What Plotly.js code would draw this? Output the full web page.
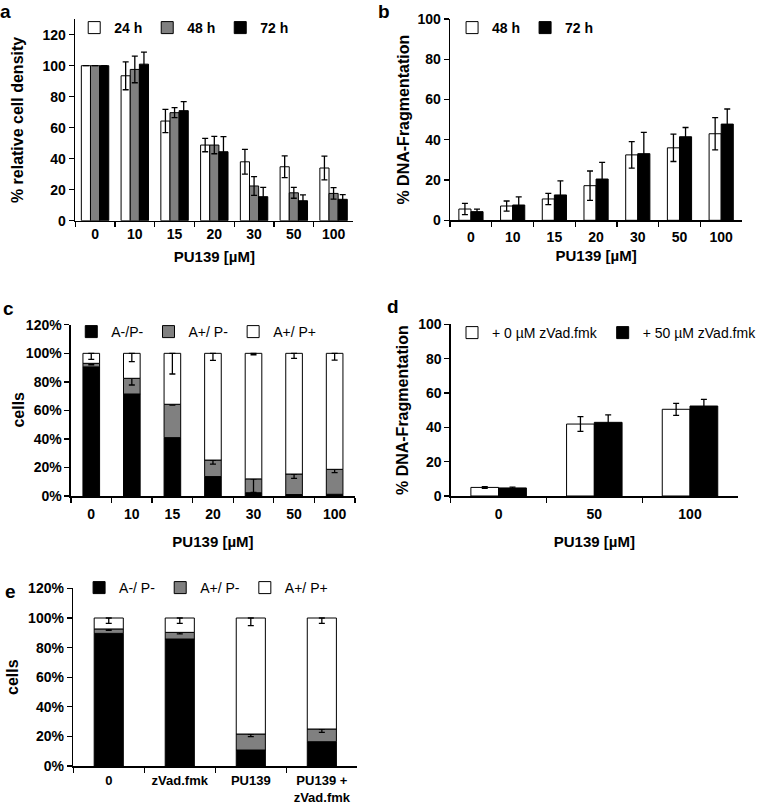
<!DOCTYPE html>
<html><head><meta charset="utf-8">
<script src="https://cdn.plot.ly/plotly-3.0.1.min.js"></script>
<style>html,body{margin:0;padding:0;background:#fff}#chart{width:762px;height:807px}</style>
</head><body><div id="chart"></div>
<script>
// ---- data ----
const concA = ['0', '10', '15', '20', '30', '50', '100'];
const a24 = [100, 93.5, 64.3, 48.8, 38, 34.8, 34];
const a24Err = [0, 9, 7.5, 4.3, 8, 7, 7.7];
const a48 = [100, 97.6, 69.7, 48.8, 22.4, 18, 17.6];
const a48Err = [0, 8.6, 3.2, 5.6, 6, 3.5, 3.7];
const a72 = [100, 101, 71, 44.5, 15.5, 12.9, 13.8];
const a72Err = [0, 7.7, 5.8, 9.7, 6, 3.7, 3];

const b48 = [5.6, 7.1, 10.6, 17.2, 32.5, 36, 43];
const b48Err = [2.8, 2.5, 2.8, 7.3, 6.6, 6.8, 8];
const b72 = [4.3, 7.6, 12.6, 20.5, 33.1, 41.5, 47.8];
const b72Err = [1.3, 4, 7, 8.3, 10.6, 4.6, 7.5];

const cLive = [90.5, 71.5, 40.9, 13.6, 2.3, 1, 1.2];
const cEarly = [2.5, 11, 23.4, 11.6, 9.7, 14.4, 17.5];
const cEarlyErr = [1, 4.7, 0.5, 2.8, 9.5, 3, 2.3];
const cLate = [7, 17.5, 35.7, 74.8, 88, 84.6, 81.3];
const cLateErr = [4.2, 5.8, 14.5, 5, 1, 3.5, 4.7];

const concD = ['0', '50', '100'];
const d0 = [5, 41.9, 50.5];
const d0Err = [0.5, 4.3, 3.5];
const d50 = [4.7, 42.9, 52.4];
const d50Err = [0.5, 4.3, 3.9];

const catsE = ['0', 'zVad.fmk', 'PU139', 'PU139 +<br>zVad.fmk'];
const eLive = [89.6, 85.8, 10.8, 16.4];
const eEarly = [3, 4.5, 10.8, 8.6];
const eEarlyErr = [1, 1, 1.8, 2.3];
const eLate = [7.4, 9.7, 78.4, 75];
const eLateErr = [3.6, 3.6, 5.2, 3.6];

// ---- helpers ----
const W = 762, H = 807;
const px = v => v / W;
const py = v => 1 - v / H;
const FONT = 'Liberation Sans, Arial, sans-serif';
const WHITE = '#ffffff', GRAY = '#808080', BLACK = '#000000';

function err(arr, minusOnly) {
  const e = {type: 'data', color: '#000', thickness: 1.3, width: 3, visible: true};
  if (minusOnly) { e.symmetric = false; e.array = arr.map(() => 0); e.arrayminus = arr; }
  else { e.array = arr; }
  return e;
}
function bar(name, x, y, color, errArr, ax, width, offset, legend, extra) {
  return Object.assign({
    type: 'bar', name, x, y, xaxis: 'x' + ax, yaxis: 'y' + ax,
    width: x.map(() => width), offset: x.map(() => offset),
    marker: {color, line: {color: '#000', width: 1}},
    error_y: errArr, legend, hoverinfo: 'skip'
  }, extra || {});
}
const sum = (p, q) => p.map((v, i) => v + q[i]);

const data = [
  bar('24 h', concA, a24, WHITE, err(a24Err), '', 0.23, -0.345, 'legend'),
  bar('48 h', concA, a48, GRAY, err(a48Err), '', 0.23, -0.115, 'legend'),
  bar('72 h', concA, a72, BLACK, err(a72Err), '', 0.23, 0.115, 'legend'),

  bar('48 h', concA, b48, WHITE, err(b48Err), '2', 0.29, -0.29, 'legend2'),
  bar('72 h', concA, b72, BLACK, err(b72Err), '2', 0.29, 0, 'legend2'),

  bar('A-/P-', concA, cLive, BLACK, undefined, '3', 0.41, -0.205, 'legend3'),
  bar('A+/ P-', concA, cEarly, GRAY, err(cEarlyErr, true), '3', 0.41, -0.205, 'legend3', {base: cLive}),
  bar('A+/ P+', concA, cLate, WHITE, err(cLateErr, true), '3', 0.41, -0.205, 'legend3', {base: sum(cLive, cEarly)}),

  bar('+ 0 µM zVad.fmk', concD, d0, WHITE, err(d0Err), '4', 0.29, -0.29, 'legend4'),
  bar('+ 50 µM zVad.fmk', concD, d50, BLACK, err(d50Err), '4', 0.29, 0, 'legend4'),

  bar('A-/ P-', catsE, eLive, BLACK, undefined, '5', 0.41, -0.205, 'legend5'),
  bar('A+/ P-', catsE, eEarly, GRAY, err(eEarlyErr, true), '5', 0.41, -0.205, 'legend5', {base: eLive}),
  bar('A+/ P+', catsE, eLate, WHITE, err(eLateErr, true), '5', 0.41, -0.205, 'legend5', {base: sum(eLive, eEarly)})
];

const tickFont = {family: FONT, size: 14, color: '#000', weight: 'bold'};
function xAx(x0, x1, anchor, n, title, standoff, lblOff, fontSize) {
  return {
    domain: [px(x0), px(x1)], anchor, type: 'category', range: [-0.5, n - 0.5],
    showline: true, linecolor: '#000', linewidth: 1.5, ticks: 'outside', tickson: 'boundaries',
    ticklen: 5, tickwidth: 1.3, tickcolor: '#000',
    tickfont: Object.assign({}, tickFont, {size: fontSize || 14}), showgrid: false, zeroline: false,
    ticklabelstandoff: lblOff || 0,
    automargin: false, fixedrange: true,
    title: title ? {text: title, font: {family: FONT, size: 15, color: '#000', weight: 'bold'}, standoff} : undefined
  };
}
function yAx(top, bottom, anchor, range, suffix, title, standoff) {
  return {
    domain: [py(bottom), py(top)], anchor, range, dtick: 20, tick0: 0, ticksuffix: suffix,
    showline: true, linecolor: '#000', linewidth: 1.5, ticks: 'outside', ticklen: 5, tickwidth: 1.3,
    tickcolor: '#000', tickfont: tickFont, showgrid: false, zeroline: false, automargin: false, fixedrange: true,
    title: title ? {text: title, font: {family: FONT, size: 16, color: '#000', weight: 'bold'}, standoff} : undefined
  };
}
function leg(x, y, bold) {
  return {x: px(x), y: py(y), xanchor: 'left', yanchor: 'middle', orientation: 'h',
    bgcolor: 'rgba(0,0,0,0)', borderwidth: 0, traceorder: 'normal',
    font: {family: FONT, size: 14, color: '#000', weight: bold ? 'bold' : 'normal'}};
}
function panelLabel(t, x, y) {
  return {text: t, xref: 'paper', yref: 'paper', x: px(x), y: py(y), showarrow: false,
    xanchor: 'center', yanchor: 'middle', font: {family: FONT, size: 19, color: '#000', weight: 'bold'}};
}

const layout = {
  width: W, height: H, margin: {l: 0, r: 0, t: 0, b: 0},
  paper_bgcolor: '#fff', plot_bgcolor: 'rgba(0,0,0,0)', barmode: 'overlay', hovermode: false,
  showlegend: true,
  xaxis: xAx(77, 362, 'y', 7, 'PU139 [µM]', 10, 0),
  yaxis: yAx(19.2, 220.7, 'x', [0, 130], '', '% relative cell density', 15),
  xaxis2: xAx(461, 760, 'y2', 7, 'PU139 [µM]', 7, 3),
  yaxis2: yAx(19, 220.3, 'x2', [0, 100], '', '% DNA-Fragmentation', 4),
  xaxis3: xAx(72.7, 363.5, 'y3', 7, 'PU139 [µM]', 15, 5),
  yaxis3: yAx(324.8, 496, 'x3', [0, 120], '%', '', 0),
  xaxis4: xAx(461.7, 755.7, 'y4', 3, 'PU139 [µM]', 15, 5),
  yaxis4: yAx(324.3, 496, 'x4', [0, 100], '', '% DNA-Fragmentation', 5),
  xaxis5: xAx(75, 366, 'y5', 4, '', 0, 2, 13),
  yaxis5: yAx(588.4, 766, 'x5', [0, 120], '%', 'cells', 5),
  legend: leg(76, 28, true),
  legend2: leg(463, 28, true),
  legend3: leg(73, 332, false),
  legend4: leg(463, 333, false),
  legend5: leg(81, 588, false),
  annotations: [
    panelLabel('a', 6, 11), panelLabel('b', 393, 11), panelLabel('c', 9, 308),
    panelLabel('d', 403, 307), panelLabel('e', 11, 591),
    {text: 'cells', xref: 'paper', yref: 'paper', x: px(18), y: py(410), textangle: -90, showarrow: false,
      xanchor: 'center', yanchor: 'middle', font: {family: FONT, size: 16, color: '#000', weight: 'bold'}}
  ]
};

Plotly.newPlot('chart', data, layout, {staticPlot: true, displayModeBar: false});
</script>
</body></html>
